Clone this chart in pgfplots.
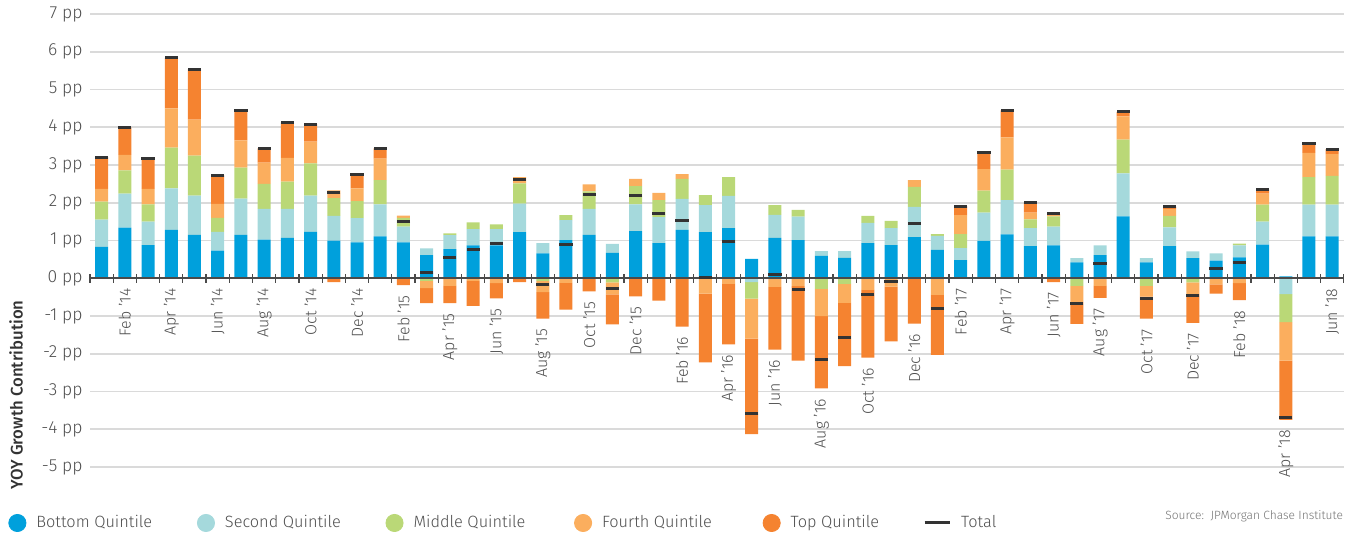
\documentclass[border=0pt]{standalone}
\usepackage{fontspec}
\setmainfont{Fira Sans Light}[BoldFont={Fira Sans Medium}]
\usepackage{pgfplots}
\usepackage{pgfplotstable}
\pgfplotsset{compat=1.18}
\definecolor{qbot}{HTML}{00A0DC}
\definecolor{qsec}{HTML}{A5D9DC}
\definecolor{qmid}{HTML}{BAD877}
\definecolor{qfou}{HTML}{FBAE5E}
\definecolor{qtop}{HTML}{F58330}
\definecolor{totc}{HTML}{333333}
\definecolor{gridc}{HTML}{DADADA}
\definecolor{axisc}{HTML}{4A4A4A}
\definecolor{txt}{HTML}{4F4F4F}
\newcommand\tickf{\fontsize{8.8}{10}\selectfont}
\newcommand\labf{\fontsize{8}{9}\selectfont}
\newcommand\legf{\fontsize{8.2}{10}\selectfont}

% monthly contribution of each quintile (pp), total growth, month
\pgfplotstableread[col sep=comma]{
x,B,S,M,F,T,tot,lab
0,0.83,0.72,0.48,0.34,0.84,3.21,Jan '14
1,1.34,0.90,0.62,0.41,0.73,4.00,Feb '14
2,0.88,0.62,0.46,0.41,0.81,3.18,Mar '14
3,1.28,1.10,1.08,1.04,1.34,5.84,Apr '14
4,1.15,1.04,1.06,0.95,1.33,5.53,May '14
5,0.73,0.50,0.37,0.37,0.76,2.73,Jun '14
6,1.15,0.96,0.82,0.72,0.79,4.44,Jul '14
7,1.02,0.82,0.66,0.56,0.38,3.44,Aug '14
8,1.07,0.77,0.72,0.63,0.94,4.13,Sep '14
9,1.23,0.96,0.85,0.58,0.46,4.08,Oct '14
10,1.00,0.65,0.47,0.21,-0.10,2.28,Nov '14
11,0.95,0.64,0.45,0.34,0.36,2.74,Dec '14
12,1.11,0.85,0.64,0.57,0.27,3.44,Jan '15
13,0.95,0.42,0.23,0.06,-0.18,1.50,Feb '15
14,0.61,0.18,-0.07,-0.19,-0.40,0.16,Mar '15
15,0.77,0.37,0.05,-0.20,-0.46,0.55,Apr '15
16,0.87,0.43,0.18,-0.07,-0.66,0.77,May '15
17,0.87,0.43,0.13,-0.13,-0.40,0.92,Jun '15
18,1.22,0.76,0.53,0.17,-0.10,2.62,Jul '15
19,0.66,0.27,-0.07,-0.30,-0.70,-0.16,Aug '15
20,1.01,0.53,0.13,-0.12,-0.71,0.90,Sep '15
21,1.15,0.69,0.46,0.19,-0.35,2.22,Oct '15
22,0.67,0.24,-0.11,-0.32,-0.79,-0.28,Nov '15
23,1.25,0.71,0.48,0.19,-0.48,2.18,Dec '15
24,0.93,0.69,0.45,0.19,-0.59,1.71,Jan '16
25,1.28,0.82,0.53,0.13,-1.28,1.53,Feb '16
26,1.22,0.72,0.26,-0.41,-1.82,0.02,Mar '16
27,1.33,0.85,0.50,-0.15,-1.60,0.97,Apr '16
28,0.51,-0.10,-0.44,-1.06,-2.53,-3.58,May '16
29,1.07,0.61,0.26,-0.23,-1.66,0.09,Jun '16
30,1.01,0.62,0.18,-0.21,-1.97,-0.30,Jul '16
31,0.59,0.13,-0.28,-0.72,-1.92,-2.15,Aug '16
32,0.54,0.18,-0.15,-0.50,-1.68,-1.58,Sep '16
33,0.93,0.54,0.18,-0.31,-1.79,-0.44,Oct '16
34,0.88,0.45,0.19,-0.22,-1.45,-0.09,Nov '16
35,1.09,0.80,0.53,0.18,-1.20,1.44,Dec '16
36,0.75,0.37,0.05,-0.44,-1.59,-0.81,Jan '17
37,0.48,0.32,0.37,0.50,0.24,1.91,Feb '17
38,0.99,0.75,0.58,0.57,0.44,3.33,Mar '17
39,1.16,0.91,0.81,0.85,0.72,4.45,Apr '17
40,0.85,0.48,0.23,0.18,0.26,2.00,May '17
41,0.87,0.50,0.27,0.05,-0.10,1.72,Jun '17
42,0.42,0.11,-0.20,-0.43,-0.58,-0.66,Jul '17
43,0.61,0.26,0.00,-0.20,-0.32,0.38,Aug '17
44,1.64,1.14,0.89,0.62,0.12,4.41,Sep '17
45,0.42,0.11,-0.20,-0.29,-0.58,-0.53,Oct '17
46,0.85,0.50,0.30,0.18,0.07,1.90,Nov '17
47,0.53,0.18,-0.11,-0.31,-0.76,-0.45,Dec '17
48,0.47,0.19,0.00,-0.16,-0.25,0.26,Jan '18
49,0.55,0.32,0.05,-0.13,-0.45,0.42,Feb '18
50,0.89,0.61,0.45,0.29,0.10,2.34,Mar '18
51,0.05,-0.42,-0.74,-1.02,-1.57,-3.68,Apr '18
52,1.11,0.84,0.73,0.64,0.26,3.58,May '18
53,1.11,0.84,0.76,0.58,0.13,3.42,Jun '18
}\qdata

\pgfplotsset{
  frame/.style={width=626.9bp, height=226.5bp, scale only axis,
    xmin=-0.5, xmax=53.5, ymin=-5, ymax=7, at={(0,0)}, anchor=south west},
  stk/.style={frame, hide axis, ybar stacked, bar width=6.5bp},
}

\begin{document}
\begin{tikzpicture}
\path[use as bounding box] (-45bp,-34bp) rectangle (630.5bp,233.5bp);

% grid and y labels
\begin{axis}[frame, axis line style={draw=none}, xtick=\empty,
    ytick={-5,...,7},
    yticklabels={-5 pp,-4 pp,-3 pp,-2 pp,-1 pp,0 pp,1 pp,2 pp,3 pp,4 pp,5 pp,6 pp,7 pp},
    ymajorgrids, major grid style={gridc, line width=0.8bp},
    ytick style={draw=none},
    yticklabel style={font=\tickf, text=txt, inner xsep=0pt, xshift=-3.5bp}]
\end{axis}

% positive parts
\begin{axis}[stk]
\addplot[fill=qbot, draw=none] table[x=x, y expr={max(\thisrow{B},0)}] {\qdata};
\addplot[fill=qsec, draw=none] table[x=x, y expr={max(\thisrow{S},0)}] {\qdata};
\addplot[fill=qmid, draw=none] table[x=x, y expr={max(\thisrow{M},0)}] {\qdata};
\addplot[fill=qfou, draw=none] table[x=x, y expr={max(\thisrow{F},0)}] {\qdata};
\addplot[fill=qtop, draw=none] table[x=x, y expr={max(\thisrow{T},0)}] {\qdata};
\end{axis}

% negative parts
\begin{axis}[stk]
\addplot[fill=qbot, draw=none] table[x=x, y expr={min(\thisrow{B},0)}] {\qdata};
\addplot[fill=qsec, draw=none] table[x=x, y expr={min(\thisrow{S},0)}] {\qdata};
\addplot[fill=qmid, draw=none] table[x=x, y expr={min(\thisrow{M},0)}] {\qdata};
\addplot[fill=qfou, draw=none] table[x=x, y expr={min(\thisrow{F},0)}] {\qdata};
\addplot[fill=qtop, draw=none] table[x=x, y expr={min(\thisrow{T},0)}] {\qdata};
\end{axis}

% zero line, totals, month labels, legend
\begin{axis}[frame, clip=false,
    axis x line=middle, axis y line=none,
    x axis line style={-, draw=axisc, line width=1.1bp},
    xtick={-0.5,0.5,...,53.5}, xticklabels={},
    xtick style={draw=axisc, line width=0.6bp},
    major tick length=4.5bp, xtick align=center, ytick=\empty,
    legend columns=6,
    legend style={draw=none, fill=none, inner sep=0pt, font=\legf, text=txt,
      at={(-0.0654,-0.1236)}, anchor=west,
      /tikz/every odd column/.style={column sep=3bp},
      /tikz/every even column/.style={column sep=6.3bp}}]
\addlegendimage{legend image code/.code={\fill[qbot] (4.3bp,0) circle (4.3bp);}}
\addlegendentry{\makebox[72bp][l]{Bottom Quintile}}
\addlegendimage{legend image code/.code={\fill[qsec] (4.3bp,0) circle (4.3bp);}}
\addlegendentry{\makebox[72bp][l]{Second Quintile}}
\addlegendimage{legend image code/.code={\fill[qmid] (4.3bp,0) circle (4.3bp);}}
\addlegendentry{\makebox[72bp][l]{Middle Quintile}}
\addlegendimage{legend image code/.code={\fill[qfou] (4.3bp,0) circle (4.3bp);}}
\addlegendentry{\makebox[72bp][l]{Fourth Quintile}}
\addlegendimage{legend image code/.code={\fill[qtop] (4.3bp,0) circle (4.3bp);}}
\addlegendentry{\makebox[58bp][l]{Top Quintile}}
\addlegendimage{legend image code/.code={\draw[totc, line width=1.5bp] (0,0) -- (12.5bp,0);}}
\addlegendentry{Total}

\addplot[forget plot, only marks, mark=-, mark size=3.3bp,
  mark options={draw=totc, line width=1.5bp}] table[x=x, y=tot] {\qdata};

\addplot[forget plot, draw=none, mark=none,
  x filter/.expression={mod(x,2)==1 ? x : nan},
  nodes near coords, point meta=explicit symbolic,
  every node near coord/.append style={rotate=90, anchor=east, font=\labf,
    text=txt, inner xsep=5bp, inner ysep=0pt}]
  table[x=x, meta=lab, y expr={min(\thisrow{B},0)+min(\thisrow{S},0)+min(\thisrow{M},0)+min(\thisrow{F},0)+min(\thisrow{T},0)}] {\qdata};
\end{axis}

\node[rotate=90, font=\fontsize{8.4}{9}\selectfont\bfseries, text=totc] at (-37bp,36bp) {YOY Growth Contribution};
\node[anchor=base east, font=\fontsize{6}{7}\selectfont, text=txt!80] at (630bp,-26bp) {Source:\ \ JPMorgan Chase Institute};
\end{tikzpicture}
\end{document}
